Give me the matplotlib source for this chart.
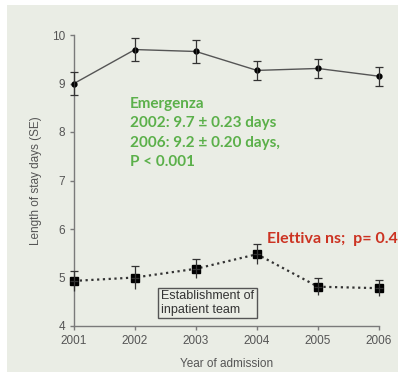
import matplotlib.pyplot as plt
from matplotlib.patches import Rectangle

# anni di ricovero
years = [2001, 2002, 2003, 2004, 2005, 2006]

# degenza media, ricoveri in emergenza (giorni) e errore standard
emerg_mean = [9.00, 9.70, 9.66, 9.27, 9.31, 9.15]
emerg_se = [0.24, 0.24, 0.23, 0.20, 0.20, 0.20]

# degenza media, ricoveri elettivi (giorni) e errore standard
elett_mean = [4.93, 5.00, 5.18, 5.48, 4.81, 4.78]
elett_se = [0.21, 0.24, 0.20, 0.21, 0.17, 0.16]

y_ticks = [4, 5, 6, 7, 8, 9, 10]

emerg_text = "Emergenza\n2002: 9.7 \u00b1 0.23 days\n2006: 9.2 \u00b1 0.20 days,\nP < 0.001"
elett_text = "Elettiva ns;  p= 0.42"
box_text = "Establishment of\ninpatient team"

axis_col = "#7a7a7a"
tick_col = "#555555"
green = "#5bb04a"
red = "#cc3322"

W, H = 398, 372

fig = plt.figure(figsize=(W / 100, H / 100), dpi=100)
fig.patch.set_facecolor("white")
# pannello di sfondo
fig.add_artist(Rectangle((7 / W, 0), 1, 1 - 5 / H, transform=fig.transFigure,
                         facecolor="#eaede5", edgecolor="none", zorder=0))

ax = fig.add_axes([74 / W, 1 - 326 / H, (379 - 74) / W, (326 - 35) / H])
ax.set_facecolor("none")

# serie emergenza: linea continua
ax.plot(years, emerg_mean, color="#555555", lw=1.0, marker="o", ms=3.5,
        mfc="black", mec="black", clip_on=False, zorder=3)
ax.errorbar(years, emerg_mean, yerr=emerg_se, fmt="none", ecolor="#333333",
            elinewidth=0.9, capsize=2.6, capthick=0.9, clip_on=False, zorder=3)

# serie elettiva: linea puntinata, cappuccio solo in alto
ax.plot(years, elett_mean, color="#333333", lw=1.6, ls=(0, (1, 1.6)), marker="s", ms=6,
        mfc="black", mec="black", clip_on=False, zorder=3)
ax.errorbar(years, elett_mean, yerr=[elett_se, [0] * 6], fmt="none", ecolor="#333333",
            elinewidth=0.9, capsize=0, clip_on=False, zorder=3)
ax.errorbar(years, elett_mean, yerr=[[0] * 6, elett_se], fmt="none", ecolor="#333333",
            elinewidth=0.9, capsize=2.6, capthick=0.9, clip_on=False, zorder=3)

ax.set_xlim(2001, 2006)
ax.set_ylim(4, 10)
ax.set_xticks(years)
ax.set_yticks(y_ticks)

for side in ["top", "right"]:
    ax.spines[side].set_visible(False)
for side in ["left", "bottom"]:
    ax.spines[side].set_color(axis_col)
    ax.spines[side].set_linewidth(1.0)
ax.tick_params(colors=axis_col, labelcolor=tick_col, length=3, width=1.0, labelsize=8.5)
for lab in ax.get_xticklabels() + ax.get_yticklabels():
    lab.set_family("Liberation Sans")

ax.set_xlabel("Year of admission", color=tick_col, fontsize=8.5,
              family="Liberation Sans", labelpad=8)
ax.set_ylabel("Length of stay days (SE)", color=tick_col, fontsize=8.5,
              family="Liberation Sans", labelpad=7)

fig.text(130 / W, 1 - 133 / H, emerg_text, color=green, fontsize=11,
         fontweight="bold", family="Lato", va="center", linespacing=1.5)
fig.text(267 / W, 1 - 239 / H, elett_text, color=red, fontsize=11.5,
         fontweight="bold", family="Lato", va="center")

# riquadro "Establishment of inpatient team"
fig.text(161 / W, 1 - 303 / H, box_text, color="#333333", fontsize=9,
         family="Liberation Sans", va="center", linespacing=1.15,
         bbox=dict(boxstyle="square,pad=0.22", fc="none", ec="#555555", lw=1.0))

fig.savefig("out.png", dpi=100)
